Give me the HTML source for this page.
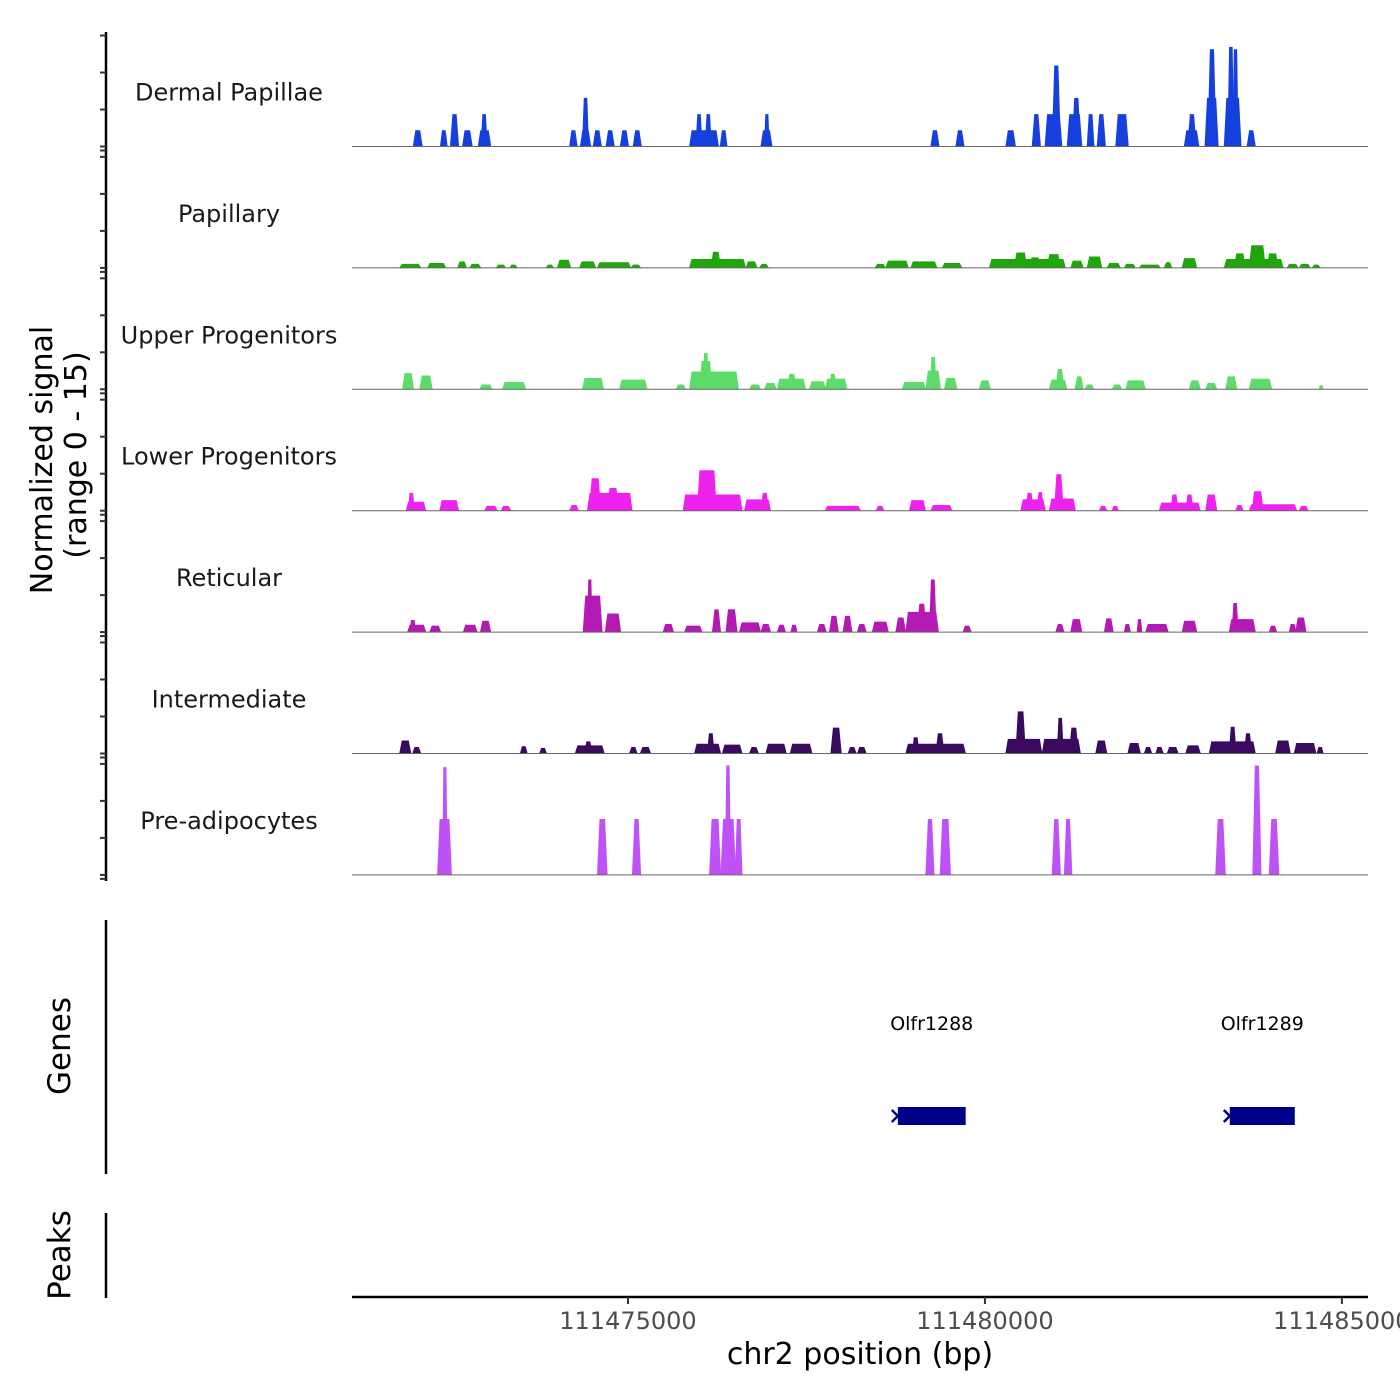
<!DOCTYPE html>
<html><head><meta charset="utf-8"><style>
html,body{margin:0;padding:0;background:#fff;}
svg{display:block;font-family:"DejaVu Sans","Liberation Sans",sans-serif;}
</style></head><body>
<svg id="chart" width="1400" height="1400" viewBox="0 0 1400 1400" xmlns="http://www.w3.org/2000/svg">
<rect width="1400" height="1400" fill="#fff"/>
<g id="tracks"></g>
<g id="leftaxis"></g>
<text transform="translate(52,460) rotate(-90)" text-anchor="middle" font-size="30" fill="#000">Normalized signal</text>
<text transform="translate(86,455) rotate(-90)" text-anchor="middle" font-size="30" fill="#000">(range 0 - 15)</text>
<line x1="106" y1="920" x2="106" y2="1174" stroke="#000" stroke-width="2.5"/>
<text transform="translate(70,1046) rotate(-90)" text-anchor="middle" font-size="31">Genes</text>
<g id="genes"></g>
<line x1="106" y1="1213" x2="106" y2="1298" stroke="#000" stroke-width="2.5"/>
<text transform="translate(70,1255) rotate(-90)" text-anchor="middle" font-size="31">Peaks</text>
<g id="xaxis"></g>
<text x="860" y="1364" text-anchor="middle" font-size="30" fill="#000">chr2 position (bp)</text>
</svg>
<script>
// positions in kb offset from 111470000
const trackNames = ["Dermal Papillae","Papillary","Upper Progenitors","Lower Progenitors","Reticular","Intermediate","Pre-adipocytes"];
const trackColors = ["#1540dd","#1fa60a","#5ddc6a","#ee22ee","#b31ab3","#3a0a5e","#bf52f7"];
const dermal = [[2.00,2.11,2],[2.38,2.46,2],[2.52,2.62,4],[2.69,2.81,2],[2.91,3.07,2],[2.95,3.02,4],[4.19,4.28,2],[4.34,4.47,2],[4.37,4.44,6],[4.52,4.62,2],[4.70,4.80,2],[4.90,5.00,2],[5.08,5.18,2],[5.87,6.26,2],[5.96,6.03,4],[6.09,6.16,4],[6.30,6.38,2],[6.87,7.01,2],[6.92,6.97,4],[9.25,9.35,2],[9.60,9.70,2],[10.30,10.42,2],[10.67,10.77,4],[10.85,11.07,4],[10.95,11.05,10],[11.16,11.35,4],[11.23,11.33,6],[11.44,11.52,4],[11.58,11.68,4],[11.84,12.00,4],[12.80,12.99,2],[12.85,12.95,4],[13.09,13.26,6],[13.13,13.23,12],[13.36,13.58,6],[13.41,13.48,12.3],[13.48,13.54,12],[13.68,13.78,2]];
const papillary = [[1.81,2.09,0.5],[2.20,2.44,0.6],[2.62,2.73,0.8],[2.79,2.93,0.5],[3.16,3.28,0.4],[3.35,3.44,0.4],[3.86,3.95,0.4],[4.02,4.19,1],[4.33,4.54,0.8],[4.58,5.03,0.7],[5.05,5.17,0.4],[5.87,6.64,1.1],[6.17,6.29,2],[6.66,6.80,0.8],[6.85,6.96,0.5],[8.47,8.60,0.5],[8.62,8.92,0.9],[8.97,9.32,0.8],[9.41,9.67,0.6],[10.07,11.12,1.1],[10.42,10.58,1.9],[10.88,11.05,1.7],[10.63,10.77,1.3],[11.21,11.37,0.9],[11.44,11.63,1.4],[11.72,11.89,0.6],[11.96,12.10,0.5],[12.17,12.45,0.4],[12.52,12.61,0.7],[12.77,12.96,1.2],[13.36,14.17,1.1],[13.50,13.64,1.8],[13.71,13.92,2.8],[13.96,14.10,1.8],[14.24,14.38,0.5],[14.41,14.55,0.5],[14.59,14.69,0.4]];
const upperProg = [[1.85,1.99,2],[2.09,2.25,1.7],[2.93,3.09,0.6],[3.25,3.56,0.9],[4.37,4.65,1.4],[4.89,5.26,1.2],[5.68,5.80,0.6],[5.87,6.54,2.2],[6.01,6.17,3.5],[6.06,6.12,4.5],[6.71,6.85,0.6],[6.92,7.07,0.8],[7.10,7.48,1.3],[7.24,7.35,1.9],[7.55,7.76,1],[7.77,8.06,1.3],[7.83,7.91,1.9],[8.85,9.16,0.9],[9.18,9.37,2.3],[9.24,9.31,4],[9.44,9.60,1.4],[9.93,10.07,1.1],[10.91,11.14,1.2],[11.00,11.10,2.5],[11.27,11.37,1.6],[11.41,11.52,0.6],[11.79,11.91,0.6],[11.98,12.24,1.1],[12.87,13.01,1.1],[13.10,13.24,0.8],[13.38,13.52,1.6],[13.71,14.01,1.3],[14.69,14.73,0.5]];
const lowerProg = [[1.90,2.16,1.1],[1.93,2.00,2.2],[2.37,2.62,1.3],[3.00,3.16,0.6],[3.23,3.35,0.6],[4.19,4.30,0.7],[4.44,5.05,2.2],[4.47,4.61,4],[4.72,4.86,2.8],[5.78,6.59,2],[5.98,6.23,5],[6.64,6.99,1.4],[6.87,6.96,2.2],[7.77,8.25,0.6],[8.48,8.58,0.6],[8.95,9.16,1.3],[9.25,9.53,0.7],[10.51,10.84,1.4],[10.58,10.67,2.2],[10.74,10.81,2.3],[10.91,11.26,1.5],[10.98,11.09,4.5],[11.61,11.70,0.6],[11.79,11.86,0.6],[12.45,13.01,1],[12.61,12.70,2],[12.82,12.91,2],[13.10,13.24,2],[13.52,13.61,0.7],[13.71,14.36,0.8],[13.75,13.89,2.4],[14.41,14.52,0.6]];
const reticular = [[1.92,2.16,0.9],[1.95,2.02,1.5],[2.23,2.37,0.8],[2.70,2.88,0.9],[2.94,3.07,1.4],[4.38,4.63,4.5],[4.44,4.49,6.5],[4.69,4.89,2.3],[5.50,5.63,1],[5.80,6.03,0.8],[6.19,6.29,2.8],[6.38,6.52,2.8],[6.57,6.85,1.2],[6.87,6.99,1],[7.10,7.20,0.9],[7.29,7.36,0.9],[7.66,7.77,1],[7.83,7.94,2],[8.02,8.13,2],[8.22,8.33,1],[8.43,8.64,1.3],[8.76,8.88,1.8],[8.90,9.34,2.5],[9.06,9.17,3.5],[9.23,9.31,6.5],[9.70,9.80,0.8],[11.00,11.10,1],[11.21,11.35,1.6],[11.68,11.79,1.7],[11.96,12.03,1],[12.14,12.19,1.6],[12.26,12.56,1],[12.77,12.96,1.4],[13.43,13.78,1.6],[13.47,13.54,3.6],[13.99,14.08,0.8],[14.27,14.35,1],[14.36,14.49,1.8]];
const intermediate = [[1.81,1.95,1.6],[1.99,2.09,0.8],[3.50,3.58,0.9],[3.77,3.85,0.7],[4.27,4.66,1],[4.40,4.49,1.5],[5.03,5.12,0.8],[5.18,5.31,0.8],[5.94,6.29,1.2],[6.12,6.20,2.5],[6.33,6.59,1.1],[6.71,6.82,0.8],[6.94,7.21,1.2],[7.28,7.57,1.2],[7.85,7.98,3.2],[8.09,8.19,0.8],[8.22,8.33,0.8],[8.90,9.72,1.2],[8.99,9.07,2],[9.32,9.42,2.5],[10.30,10.79,1.8],[10.44,10.56,5.2],[10.81,11.33,1.8],[11.02,11.09,4.4],[11.19,11.30,3.2],[11.56,11.70,1.6],[12.01,12.17,1.3],[12.24,12.33,0.8],[12.40,12.49,0.8],[12.56,12.70,0.8],[12.82,13.01,1],[13.15,13.78,1.5],[13.43,13.51,3.3],[13.64,13.73,2.5],[14.08,14.27,1.6],[14.34,14.63,1.3],[14.66,14.73,0.8]];
const preAdipo = [[2.34,2.52,6.9],[2.41,2.46,13.3],[4.58,4.70,6.9],[5.07,5.17,6.9],[6.15,6.29,6.9],[6.31,6.50,6.9],[6.37,6.43,13.5],[6.51,6.59,6.9],[9.18,9.28,6.9],[9.38,9.51,6.9],[10.95,11.05,6.9],[11.12,11.21,6.9],[13.24,13.36,6.9],[13.76,13.86,13.5],[13.99,14.11,6.9]];
const trackData = [dermal,papillary,upperProg,lowerProg,reticular,intermediate,preAdipo];
const geneNames = ["Olfr1288","Olfr1289"];
const geneStarts = [8.78,13.43];
const geneEnds = [9.73,14.34];
const xTicks = [111475000,111480000,111485000];
const xTickLabels = ["111475000","111480000","111485000"];

const NS="http://www.w3.org/2000/svg";
const X0=352, X1=1368, kbMin=1.134, kbMax=15.366;
function xs(kb){return X0+(kb-kbMin)/(kbMax-kbMin)*(X1-X0);}
function xbp(bp){return xs((bp-111470000)/1000);}
const unitPx=8.1, trackH=121.4, firstBase=146.5;
function mk(tag,attrs,parent){const e=document.createElementNS(NS,tag);for(const k in attrs)e.setAttribute(k,attrs[k]);parent.appendChild(e);return e;}
const tg=document.getElementById('tracks');
const la=document.getElementById('leftaxis');
mk('line',{x1:106,y1:32,x2:106,y2:881,stroke:'#000','stroke-width':2.5},la);
trackData.forEach((arr,i)=>{
  const base=firstBase+i*trackH;
  const g=mk('g',{},tg);
  
  
  const lbl=mk('text',{x:229,y:base-46,'text-anchor':'middle','font-size':24,fill:'#1a1a1a'},g);
  lbl.textContent=trackNames[i];
  
  
  arr.forEach(p=>{
    const a=xs(p[0]), b=xs(p[1]), h=p[2]*unitPx;
    const w=b-a, ins=Math.min(2.5,w*0.35);
    const poly=mk('polygon',{points:`${a-1},${base} ${a-1+ins},${base-h} ${b+1-ins},${base-h} ${b+1},${base}`,fill:trackColors[i]},g);
    
    
  });
  const bl=mk('line',{x1:X0,y1:base,x2:X1,y2:base,stroke:'#666','stroke-width':1},g);
  
  
  [0,37,74,111].forEach(d=>{
    const t=mk('line',{x1:100,y1:base-d,x2:106,y2:base-d,stroke:'#333','stroke-width':2},la);
    
    
  });
  const t2=mk('line',{x1:100,y1:base+4,x2:106,y2:base+4,stroke:'#333','stroke-width':2},la);
  
  
});
const gg=document.getElementById('genes');
geneNames.forEach((n,i)=>{
  const a=xs(geneStarts[i]), b=xs(geneEnds[i]);
  const r=mk('rect',{x:a,y:1107,width:b-a,height:18,fill:'#00008b'},gg);
  
  
  const ar=mk('path',{d:`M${a-6},${1110} L${a},${1116} L${a-6},${1122}`,stroke:'#00008b','stroke-width':2.5,fill:'none'},gg);
  
  
  const t=mk('text',{x:(a+b)/2,y:1030,'text-anchor':'middle','font-size':19,fill:'#000'},gg);
  t.textContent=n;
  
  
});
const xa=document.getElementById('xaxis');
mk('line',{x1:X0,y1:1297,x2:X1,y2:1297,stroke:'#000','stroke-width':2.5},xa);
xTicks.forEach((v,i)=>{
  const x=xbp(v);
  const t=mk('line',{x1:x,y1:1297,x2:x,y2:1304,stroke:'#333','stroke-width':2},xa);
  
  
  const l=mk('text',{x:x,y:1329,'text-anchor':'middle','font-size':24,fill:'#4d4d4d'},xa);
  l.textContent=xTickLabels[i];
  
  
});
</script>
</body></html>
